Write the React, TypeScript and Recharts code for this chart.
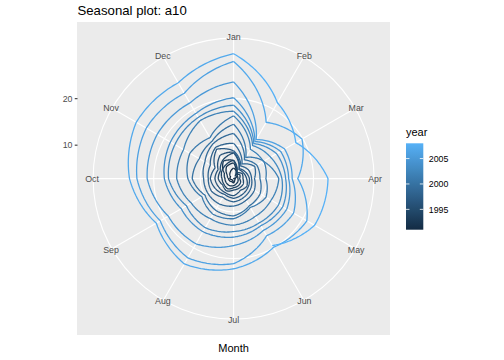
import {
  PolarAngleAxis,
  PolarGrid,
  PolarRadiusAxis,
  Radar,
  RadarChart,
} from "recharts";

const months = ["Jan", "Feb", "Mar", "Apr", "May", "Jun", "Jul", "Aug", "Sep", "Oct", "Nov", "Dec"];
const monthTicks = [1, 2, 3, 4, 5, 6, 7, 8, 9, 10, 11, 12];
const radiusTicks = [10, 20];
const legendTicks = [1995, 2000, 2005];

// a10: monthly anti-diabetic drug sales (AUD millions), Jul 1991 - Jun 2008
const a10_1991 = [null, null, null, null, null, null, 3.53, 3.18, 3.25, 3.61, 3.57, 4.31];
const a10_1992 = [5.09, 2.81, 2.99, 3.2, 3.13, 3.27, 3.74, 3.56, 3.78, 3.92, 4.39, 5.81];
const a10_1993 = [6.19, 3.45, 3.77, 3.73, 3.91, 4.05, 4.32, 4.56, 4.61, 4.67, 5.09, 7.18];
const a10_1994 = [6.73, 3.84, 4.39, 4.08, 4.54, 4.65, 4.75, 5.35, 5.2, 5.3, 5.77, 6.2];
const a10_1995 = [6.75, 4.22, 4.95, 4.82, 5.19, 5.17, 5.26, 5.86, 5.49, 6.12, 6.09, 7.42];
const a10_1996 = [8.33, 5.07, 5.26, 5.6, 6.11, 5.69, 6.49, 6.3, 6.47, 6.83, 6.65, 8.61];
const a10_1997 = [8.52, 5.28, 5.71, 6.21, 6.41, 6.67, 7.05, 6.7, 7.25, 7.82, 7.4, 10.1];
const a10_1998 = [8.8, 5.92, 6.53, 6.68, 7.06, 7.38, 7.81, 7.43, 8.28, 8.26, 8.6, 10.56];
const a10_1999 = [10.39, 6.42, 8.06, 7.3, 7.94, 8.17, 8.72, 9.07, 9.18, 9.25, 9.93, 11.53];
const a10_2000 = [12.51, 7.46, 8.59, 8.47, 9.39, 9.56, 10.83, 10.64, 9.91, 11.71, 11.34, 12.08];
const a10_2001 = [14.5, 8.05, 10.31, 9.75, 10.85, 9.96, 11.44, 11.66, 10.65, 12.65, 13.67, 12.97];
const a10_2002 = [16.3, 10.05, 10.2, 12.53, 12.11, 12.16, 12.83, 12.76, 13.32, 15.04, 15.24, 17.2];
const a10_2003 = [17.3, 11.0, 12.0, 13.2, 14.0, 13.8, 14.2, 15.0, 14.5, 16.8, 17.4, 18.0];
const a10_2004 = [18.6, 11.5, 13.5, 14.0, 15.0, 14.5, 15.4, 16.0, 15.8, 17.7, 18.5, 19.0];
const a10_2005 = [20.2, 12.0, 14.5, 14.65, 16.0, 15.65, 17.2, 19.0, 19.0, 21.4, 21.8, 21.6];
const a10_2006 = [23.6, 12.5, 15.5, 15.4, 17.7, 17.0, 21.1, 22.5, 21.0, 23.6, 24.5, 24.0];
const a10_2007 = [28.0, 16.8, 19.8, 16.6, 21.0, 19.9, 22.2, 24.0, 22.0, 25.2, 27.0, 26.6];
const a10_2008 = [29.67, 21.65, 18.26, 23.11, 22.91, 19.43, null, null, null, null, null, null];

const years = [1991, 1992, 1993, 1994, 1995, 1996, 1997, 1998, 1999, 2000, 2001, 2002, 2003, 2004, 2005, 2006, 2007, 2008];
const salesByYear = [
  a10_1991, a10_1992, a10_1993, a10_1994, a10_1995, a10_1996, a10_1997, a10_1998, a10_1999,
  a10_2000, a10_2001, a10_2002, a10_2003, a10_2004, a10_2005, a10_2006, a10_2007, a10_2008,
];

const FONT = '"Liberation Sans", Arial, Helvetica, sans-serif';
const CX = 233.6;
const CY = 178.6;
const RING = 140.5; // outer circle, 0.45 of the panel
const PANEL = RING / 0.45;
const PANEL_LEFT = CX - PANEL / 2;
const PANEL_TOP = CY - PANEL / 2;

const allSales = salesByYear.flat().filter((v): v is number => v != null);
const minSales = Math.min(...allSales);
const maxSales = Math.max(...allSales);
// data fills 0.4 of the panel, the ring sits at 0.45
const ringSales = minSales + ((maxSales - minSales) * 0.45) / 0.4;

// month 13 = January of the following year, drawn back at the top
const chartData = Array.from({ length: 13 }, (_, i) => {
  const row: Record<string, number | null> = { month: i + 1 };
  years.forEach((year, k) => {
    row[`y${year}`] = i < 12 ? salesByYear[k][i] : salesByYear[k + 1]?.[0] ?? null;
  });
  return row;
});

const LOW = [0x13, 0x2b, 0x43];
const HIGH = [0x56, 0xb1, 0xf7];
function yearColour(year: number) {
  const t = (year - years[0]) / (years[years.length - 1] - years[0]);
  const c = LOW.map((lo, i) => Math.round(lo + (HIGH[i] - lo) * t));
  return `rgb(${c[0]},${c[1]},${c[2]})`;
}

// coord_polar draws straight data segments as spirals
function spiralPath(points: any[], key: string) {
  const valid = points.filter(
    (p) => Number.isFinite(p.x) && Number.isFinite(p.y) && (!p.payload || p.payload[key] != null)
  );
  const polar = (p: any) => ({
    r: Math.hypot(p.x - CX, p.y - CY),
    a: Math.atan2(-(p.y - CY), p.x - CX),
  });
  let d = "";
  valid.forEach((p, i) => {
    if (i === 0) {
      d += `M${p.x.toFixed(2)},${p.y.toFixed(2)}`;
      return;
    }
    const a = polar(valid[i - 1]);
    const b = polar(p);
    let da = b.a - a.a;
    while (da > Math.PI) da -= 2 * Math.PI;
    while (da <= -Math.PI) da += 2 * Math.PI;
    const steps = 24;
    for (let s = 1; s <= steps; s++) {
      const t = s / steps;
      const ang = a.a + da * t;
      const r = a.r + (b.r - a.r) * t;
      d += `L${(CX + r * Math.cos(ang)).toFixed(2)},${(CY - r * Math.sin(ang)).toFixed(2)}`;
    }
  });
  return d;
}

function MonthTick(props: any) {
  const label = months[props.payload?.value - 1];
  if (!label) return <g />;
  return (
    <text x={props.x} y={props.y} dy="0.36em" textAnchor="middle" fontSize={8.8} fill="#4D4D4D" fontFamily={FONT}>
      {label}
    </text>
  );
}

function RadiusTick(props: any) {
  return (
    <g>
      <line x1={PANEL_LEFT - 2.75} x2={PANEL_LEFT} y1={props.y} y2={props.y} stroke="#333333" strokeWidth={1.07} />
      <text x={PANEL_LEFT - 5} y={props.y} dy="0.36em" textAnchor="end" fontSize={8.8} fill="#4D4D4D" fontFamily={FONT}>
        {props.payload?.value}
      </text>
    </g>
  );
}

const BAR_X = 406;
const BAR_TOP = 143.3;
const BAR_W = 17.3;
const BAR_H = 86.4;
const barY = (year: number) =>
  BAR_TOP + BAR_H - ((year - years[0]) / (years[years.length - 1] - years[0])) * BAR_H;

export default function App() {
  return (
    <div style={{ position: "absolute", left: 0, top: 0, width: 504, height: 360, background: "#FFFFFF" }}>
      <div
        style={{
          position: "absolute",
          left: PANEL_LEFT,
          top: PANEL_TOP,
          width: PANEL,
          height: PANEL,
          background: "#EBEBEB",
        }}
      />
      <RadarChart
        width={504}
        height={360}
        data={chartData}
        cx={CX}
        cy={CY}
        innerRadius={0}
        outerRadius={RING}
        startAngle={90}
        endAngle={-270}
        margin={{ top: 0, right: 0, bottom: 0, left: 0 }}
      >
        <PolarGrid gridType="circle" stroke="#FFFFFF" strokeWidth={1.1} />
        <PolarAngleAxis
          dataKey="month"
          type="number"
          domain={[1, 13]}
          ticks={monthTicks}
          tickCount={13}
          allowDataOverflow
          tick={MonthTick}
          tickLine={false}
          tickSize={1}
          axisLineType="circle"
          axisLine={{ stroke: "#FFFFFF", strokeWidth: 1.1 }}
          stroke="#FFFFFF"
        />
        <PolarRadiusAxis
          angle={90}
          type="number"
          domain={[minSales, ringSales]}
          ticks={radiusTicks}
          allowDataOverflow
          axisLine={false}
          tick={RadiusTick}
        />
        {years.map((year) => {
          const key = `y${year}`;
          const colour = yearColour(year);
          return (
            <Radar
              key={key}
              dataKey={key}
              stroke={colour}
              fill="none"
              dot={false}
              isAnimationActive={false}
              shape={(p: any) => (
                <path d={spiralPath(p.points, key)} fill="none" stroke={colour} strokeWidth={1.3} strokeLinejoin="round" />
              )}
            />
          );
        })}
      </RadarChart>
      <svg width={504} height={360} style={{ position: "absolute", left: 0, top: 0, pointerEvents: "none" }}>
        <defs>
          <linearGradient id="yearBar" x1="0" y1="1" x2="0" y2="0">
            {years.map((year) => (
              <stop key={year} offset={(year - years[0]) / (years[years.length - 1] - years[0])} stopColor={yearColour(year)} />
            ))}
          </linearGradient>
        </defs>
        <text x={PANEL_LEFT} y={15.3} fontSize={13.2} fill="#000000" fontFamily={FONT}>
          Seasonal plot: a10
        </text>
        <text x={CX} y={351.5} fontSize={11} fill="#000000" textAnchor="middle" fontFamily={FONT}>
          Month
        </text>
        <text x={BAR_X} y={135.5} fontSize={11} fill="#000000" fontFamily={FONT}>
          year
        </text>
        <rect x={BAR_X} y={BAR_TOP} width={BAR_W} height={BAR_H} fill="url(#yearBar)" />
        {legendTicks.map((year) => (
          <g key={year}>
            <line x1={BAR_X} x2={BAR_X + BAR_W / 5} y1={barY(year)} y2={barY(year)} stroke="#FFFFFF" strokeWidth={0.8} />
            <line x1={BAR_X + BAR_W - BAR_W / 5} x2={BAR_X + BAR_W} y1={barY(year)} y2={barY(year)} stroke="#FFFFFF" strokeWidth={0.8} />
            <text x={BAR_X + BAR_W + 5.5} y={barY(year)} dy="0.36em" fontSize={8.8} fill="#000000" fontFamily={FONT}>
              {year}
            </text>
          </g>
        ))}
      </svg>
    </div>
  );
}
